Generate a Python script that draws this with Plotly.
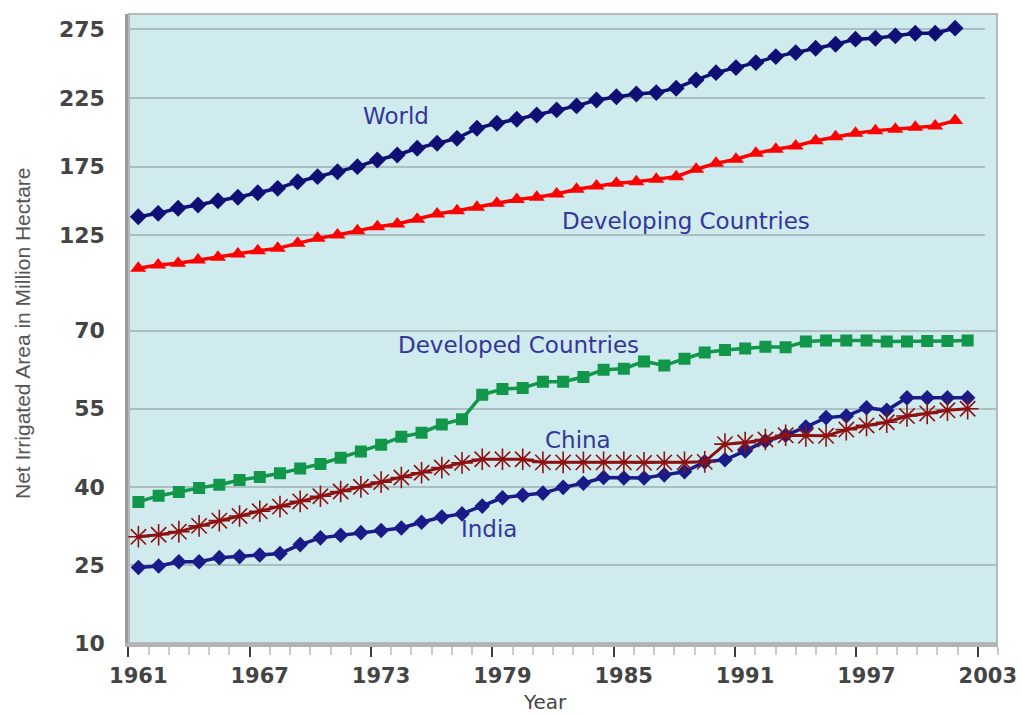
import plotly.graph_objects as go

# Net irrigated area (million hectares), 1961-2002
years = list(range(1961, 2003))

world = [138.5, 141.0, 144.7, 147.1, 150.2, 152.7, 156.0, 159.2, 164.0, 167.7,
         171.3, 175.0, 179.8, 183.5, 188.4, 192.0, 195.6, 202.9, 206.6, 209.5,
         212.6, 216.3, 219.2, 223.5, 225.9, 227.9, 228.9, 232.1, 238.1, 243.4,
         247.1, 250.7, 255.1, 258.0, 261.2, 264.1, 267.8, 268.5, 270.2, 272.1,
         272.1, 275.8]

developing = [101.0, 103.4, 104.6, 107.0, 109.0, 111.4, 113.8, 115.5, 119.2, 122.8,
              125.2, 128.4, 131.3, 133.2, 136.7, 140.5, 142.9, 145.4, 148.3, 151.0,
              152.7, 155.1, 158.5, 160.9, 162.9, 164.0, 165.8, 167.7, 173.1, 177.4,
              180.4, 184.7, 187.6, 190.0, 193.9, 196.8, 199.3, 201.2, 202.2, 203.7,
              204.6, 208.5]

developed = [37.1, 38.3, 39.0, 39.8, 40.4, 41.3, 41.9, 42.6, 43.5, 44.4,
             45.6, 46.8, 48.1, 49.6, 50.4, 52.0, 53.0, 57.7, 58.8, 59.0,
             60.2, 60.2, 61.1, 62.5, 62.7, 64.1, 63.3, 64.6, 65.8, 66.3,
             66.6, 66.9, 66.8, 67.9, 68.1, 68.1, 68.1, 67.9, 67.9, 68.0,
             68.0, 68.1]

china = [30.4, 30.8, 31.4, 32.5, 33.5, 34.4, 35.3, 36.2, 37.2, 38.2,
         39.1, 40.0, 40.9, 41.8, 42.7, 43.7, 44.6, 45.3, 45.3, 45.3,
         44.7, 44.7, 44.7, 44.7, 44.7, 44.6, 44.7, 44.7, 44.8, 48.2,
         48.5, 49.1, 49.9, 49.8, 49.8, 51.0, 51.8, 52.4, 53.6, 54.1,
         54.7, 55.0]

india = [24.5, 24.8, 25.6, 25.6, 26.4, 26.6, 26.9, 27.2, 28.9, 30.2,
         30.7, 31.2, 31.6, 32.1, 33.2, 34.2, 34.8, 36.3, 37.9, 38.4,
         38.8, 39.9, 40.7, 41.8, 41.7, 41.7, 42.3, 42.9, 44.8, 45.2,
         46.9, 48.8, 49.9, 51.5, 53.3, 53.6, 55.2, 54.7, 57.1, 57.1,
         57.1, 57.1]

label_years = list(range(1961, 2004, 6))
lower_ticks = [10, 25, 40, 55, 70]
upper_ticks = [125, 175, 225, 275]

W, H = 1022, 717


def px_x(px):
    return px / W


def px_y(py):
    return 1 - py / H


NAVY = "#0F0F75"
LABEL = "#35359C"
TICKFONT = dict(family="DejaVu Sans", size=22, color="#444444", weight="bold")

fig = go.Figure()

# upper panel: world and developing countries
fig.add_trace(go.Scatter(
    x=years, y=world, xaxis="x2", yaxis="y2", mode="lines+markers",
    line=dict(color=NAVY, width=3.5),
    marker=dict(symbol="diamond", size=13, color=NAVY)))
fig.add_trace(go.Scatter(
    x=years, y=developing, xaxis="x2", yaxis="y2", mode="lines+markers",
    line=dict(color="#FF0000", width=3.5),
    marker=dict(symbol="triangle-up", size=14, color="#FF0000")))

# lower panel: developed countries, China, India
fig.add_trace(go.Scatter(
    x=years, y=developed, mode="lines+markers",
    line=dict(color="#12964A", width=3.5),
    marker=dict(symbol="square", size=12, color="#12964A")))
fig.add_trace(go.Scatter(
    x=years, y=india, mode="lines+markers",
    line=dict(color="#1A1A88", width=3.5),
    marker=dict(symbol="diamond", size=12, color="#1A1A88")))
fig.add_trace(go.Scatter(
    x=years, y=china, mode="lines+markers",
    line=dict(color="#8E1010", width=3),
    marker=dict(symbol="asterisk-open", size=18,
                line=dict(color="#8E1010", width=1.6))))

x_lo = [px_x(128.3), px_x(998)]
x_hi = [px_x(128.3), px_x(985)]
split = 297

grid = dict(showgrid=True, gridcolor="#A9BFC1", gridwidth=2, zeroline=False,
            showline=True, linecolor="#9A9A9A", linewidth=3, ticks="",
            tickfont=TICKFONT, ticklabelstandoff=16, automargin=False)

fig.update_layout(
    width=W, height=H, autosize=False,
    margin=dict(l=0, r=0, t=0, b=0),
    paper_bgcolor="white", plot_bgcolor="rgba(0,0,0,0)",
    showlegend=False,
    xaxis=dict(
        domain=x_lo, range=[1960.5, 2003.5], anchor="y", automargin=False,
        tickvals=[y - 0.5 for y in label_years],
        ticktext=[str(y) for y in label_years],
        ticklabelshift=10,
        ticks="outside", ticklen=10, tickwidth=2, tickcolor="#3A3A3A",
        minor=dict(tick0=1960.5, dtick=1, ticks="outside", ticklen=8,
                   tickwidth=2, tickcolor="#CBCBCB", showgrid=False),
        showline=True, linecolor="#B3B3B3", linewidth=4,
        showgrid=False, zeroline=False,
        tickfont=dict(family="DejaVu Sans", size=21, color="#444444",
                      weight="bold"),
        ticklabelstandoff=1),
    yaxis=dict(domain=[px_y(643), px_y(split)], range=[10, 76.47],
               anchor="x", tickvals=lower_ticks, **grid),
    xaxis2=dict(domain=x_hi, range=[1960.5, 2003.5], anchor="y2",
                visible=False, automargin=False),
    yaxis2=dict(domain=[px_y(split), px_y(14)], range=[80.1, 286.1],
                anchor="x2", tickvals=upper_ticks, **grid),
)

# light cyan plotting background behind both panels
fig.add_shape(type="rect", xref="paper", yref="paper", layer="below",
              x0=px_x(129), x1=px_x(997), y0=px_y(643), y1=px_y(14),
              fillcolor="#CFEBEE", line=dict(color="#B8B8B8", width=2))

series_labels = [
    ("World", 396, 116),
    ("Developing Countries", 686, 221),
    ("Developed Countries", 518, 345),
    ("China", 578, 440),
    ("India", 489, 529),
]
for text, cx, cy in series_labels:
    fig.add_annotation(text=text, x=px_x(cx), y=px_y(cy), xref="paper",
                       yref="paper", showarrow=False, xanchor="center",
                       yanchor="middle",
                       font=dict(family="DejaVu Sans", size=23, color=LABEL))

fig.add_annotation(text="Net Irrigated Area in Million Hectare",
                   x=px_x(22), y=px_y(334), xref="paper", yref="paper",
                   showarrow=False, textangle=-90, xanchor="center",
                   yanchor="middle",
                   font=dict(family="Liberation Sans Narrow, Liberation Sans",
                             size=21, color="#555555"))
fig.add_annotation(text="Year", x=px_x(545), y=px_y(716), xref="paper",
                   yref="paper", showarrow=False, xanchor="center",
                   yanchor="bottom",
                   font=dict(family="DejaVu Sans", size=20, color="#444444"))

fig.write_html("out.html")
